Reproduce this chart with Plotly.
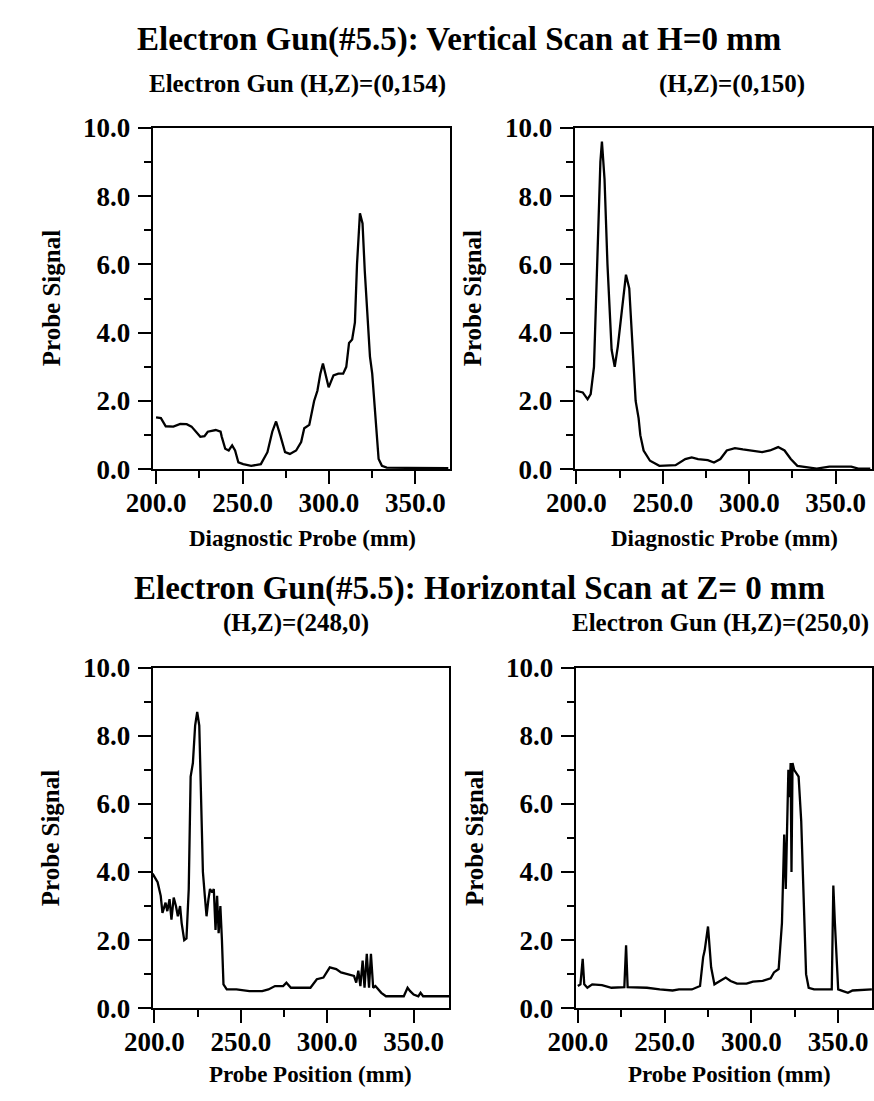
import plotly.graph_objects as go

# ---- data ----
tl_x = [200, 202.8, 205.6, 210, 214, 217.7, 220.5, 223, 225.6, 228, 229.9, 234.5, 237.3, 238, 240, 242, 244,
        245.7, 247.6, 250.4, 255, 260.6, 264.4, 267.2, 269.4, 271.8, 274.6, 277.4, 281, 283.9, 285.7, 288.6,
        291.4, 293.3, 295, 296.5, 298, 299.8, 302.6, 305.4, 308.2, 310, 311.6, 313.4, 315, 316.2, 317.9, 319.4,
        320.7, 322.2, 323.7, 325, 326.9, 328.7, 330.6, 333.4, 345, 369]
tl_y = [1.52, 1.5, 1.26, 1.25, 1.33, 1.32, 1.25, 1.1, 0.95, 0.97, 1.1, 1.15, 1.1, 0.95, 0.6, 0.55, 0.7,
        0.55, 0.2, 0.15, 0.1, 0.15, 0.5, 1.1, 1.4, 1.0, 0.5, 0.45, 0.55, 0.8, 1.2, 1.3,
        2.0, 2.3, 2.8, 3.1, 2.8, 2.4, 2.75, 2.8, 2.8, 3.0, 3.7, 3.8, 4.3, 6.0, 7.5, 7.2,
        5.8, 4.7, 3.3, 2.8, 1.5, 0.3, 0.1, 0.05, 0.04, 0.03]

tr_x = [199.6, 203.7, 206.5, 208.3, 210.2, 212, 213.9, 214.8, 216.3, 218, 220.4, 222.2, 224, 226, 228.7,
        230.6, 232.4, 234.3, 236, 237, 238.9, 242.6, 248, 257.4, 263, 266.7, 270.4, 276, 279.6, 283.3, 287,
        291.7, 296.3, 301, 307.4, 312, 316.7, 320.4, 324, 327.8, 333.3, 339, 346.3, 359, 363, 370]
tr_y = [2.3, 2.25, 2.05, 2.2, 3.0, 6.0, 9.0, 9.6, 8.5, 6.0, 3.5, 3.0, 3.6, 4.5, 5.7,
        5.3, 3.5, 2.0, 1.5, 1.0, 0.55, 0.25, 0.1, 0.12, 0.3, 0.35, 0.3, 0.27, 0.2, 0.3, 0.55,
        0.62, 0.58, 0.55, 0.5, 0.55, 0.65, 0.55, 0.3, 0.1, 0.05, 0.02, 0.08, 0.08, 0.02, 0.02]

bl_x = [199, 201.9, 203.7, 204.7, 206.5, 207.5, 208.8, 209.9, 211.2, 212.5, 213.6, 214.9, 215.8, 217.3,
        218.6, 219.9, 221, 222.3, 223.6, 224.8, 226, 227, 228.1, 229.2, 230.2, 231.3, 232.2, 233.5, 234.4,
        235.4, 236.3, 237.2, 238.2, 239.1, 240, 241.9, 247.5, 255, 262.4, 266, 269.8, 274.5, 276.4, 279,
        284.7, 290.3, 294, 297.8, 301.5, 305.2, 308, 312.7, 315.5, 316.8, 318, 319.2, 320.5, 321.6, 322.9,
        324.2, 325.3, 326.6, 327.9, 331.3, 334, 344.3, 346.5, 348, 350, 352.7, 354, 355.5, 370.5]
bl_y = [3.95, 3.7, 3.3, 2.8, 3.1, 2.85, 3.2, 2.6, 3.25, 3.0, 2.7, 3.0, 2.5, 2.0,
        2.05, 3.5, 6.8, 7.2, 8.3, 8.7, 8.3, 6.5, 4.0, 3.3, 2.7, 3.2, 3.5, 3.4, 3.5,
        2.3, 3.3, 2.2, 3.0, 2.0, 0.7, 0.55, 0.55, 0.5, 0.5, 0.55, 0.65, 0.65, 0.75, 0.6,
        0.6, 0.6, 0.85, 0.9, 1.2, 1.15, 1.05, 1.0, 0.95, 0.75, 1.1, 0.65, 1.4, 0.6, 1.6,
        0.6, 1.6, 0.6, 0.65, 0.45, 0.35, 0.35, 0.6, 0.5, 0.4, 0.35, 0.45, 0.35, 0.35]

br_x = [200, 201.5, 202.8, 203.7, 205.5, 208.3, 213.9, 219.4, 226.8, 227.8, 228.7, 232.4, 239.8, 247.2,
        254.6, 258.3, 265.7, 270.4, 272.2, 273.1, 274, 275, 275.9, 276.8, 278.7, 282.4, 285.2, 288, 291.7,
        297.2, 300.9, 306.5, 311.1, 313, 315.7, 317.6, 318.9, 319.8, 320.6, 321.3, 322, 322.6, 323.1, 323.7,
        324.6, 325.9, 327.2, 328.7, 330.2, 331.5, 333, 336.1, 346.3, 347.2, 348.1, 349.1, 350, 352.8, 355.6,
        358.3, 369.4]
br_y = [0.65, 0.7, 1.45, 0.7, 0.6, 0.7, 0.68, 0.6, 0.62, 1.85, 0.62, 0.62, 0.6, 0.55,
        0.52, 0.55, 0.55, 0.65, 1.5, 1.7, 2.0, 2.4, 1.8, 1.2, 0.7, 0.8, 0.9, 0.8, 0.72,
        0.72, 0.78, 0.8, 0.88, 1.05, 1.15, 2.5, 5.1, 3.5, 5.5, 7.0, 6.2, 7.2, 4.0, 7.2,
        7.0, 6.9, 6.8, 5.5, 3.0, 1.0, 0.6, 0.55, 0.55, 3.6, 2.5, 1.3, 0.55, 0.5, 0.45,
        0.52, 0.55]

x_ticks = [200, 250, 300, 350]
x_ticklabels = ["200.0", "250.0", "300.0", "350.0"]
y_ticks = [0, 2, 4, 6, 8, 10]
y_ticklabels = ["0.0", "2.0", "4.0", "6.0", "8.0", "10.0"]

title_top = "Electron Gun(#5.5): Vertical Scan at H=0 mm"
title_bottom = "Electron Gun(#5.5): Horizontal Scan at Z= 0 mm"
subtitles = ["Electron Gun (H,Z)=(0,154)", "(H,Z)=(0,150)", "(H,Z)=(248,0)", "Electron Gun (H,Z)=(250,0)"]
x_titles = ["Diagnostic Probe (mm)", "Diagnostic Probe (mm)", "Probe Position (mm)", "Probe Position (mm)"]
y_title = "Probe Signal"

W, H = 874, 1101
FONT = "Liberation Serif"

fig = go.Figure()

# pixel geometry of panels: (x0, x1, ytop, ybottom) and x ranges
panels = [(128, 436, 116, 467), (565, 873, 116, 467), (128, 435, 671, 1021), (566, 873, 671, 1021)]
xranges = [[198.0, 370.0], [199.0, 371.0], [199.0, 370.5], [198.7, 369.5]]
series = [(tl_x, tl_y), (tr_x, tr_y), (bl_x, bl_y), (br_x, br_y)]

for i, ((x0, x1, yt, yb), xr, (xs, ys)) in enumerate(zip(panels, xranges, series)):
    n = "" if i == 0 else str(i + 1)
    fig.add_trace(go.Scatter(x=xs, y=ys, mode="lines", line=dict(color="black", width=2.3),
                             xaxis="x" + n, yaxis="y" + n, showlegend=False, hoverinfo="skip"))
    common = dict(showgrid=False, zeroline=False, showline=True, linecolor="black", linewidth=2,
                  mirror=True, ticks="outside", tickcolor="black", tickwidth=2, ticklen=13,
                  tickfont=dict(family=FONT, size=27, color="black", weight="bold"))
    fig.update_layout(**{
        "xaxis" + n: dict(domain=[x0 / W, x1 / W], range=xr, anchor="y" + n,
                          tickvals=x_ticks, ticktext=x_ticklabels, ticklabelstandoff=-5,
                          minor=dict(tickvals=[225, 275, 325], ticklen=7, ticks="outside",
                                     tickcolor="black", tickwidth=2),
                          **common),
        "yaxis" + n: dict(domain=[1 - yb / H, 1 - yt / H], range=[0, 10], anchor="x" + n,
                          tickvals=y_ticks, ticktext=y_ticklabels, ticklabelstandoff=2,
                          minor=dict(tickvals=[1, 3, 5, 7, 9], ticklen=7, ticks="outside",
                                     tickcolor="black", tickwidth=2),
                          **common),
    })

ann = []
def add_text(text, x, y, size, angle=0):
    ann.append(dict(text=text, x=x / W, y=1 - y / H, xref="paper", yref="paper", showarrow=False,
                    xanchor="center", yanchor="middle", textangle=angle,
                    font=dict(family=FONT, size=size, color="black", weight="bold")))

add_text(title_top, 445, 25, 33)
add_text(title_bottom, 467, 590, 33)
sub_pos = [(278, 71), (728, 71), (277, 625), (716, 625)]
for s, (sx, sy) in zip(subtitles, sub_pos):
    add_text(s, sx, sy, 25)
xt_pos = [(283, 538), (720, 538), (292, 1089), (725, 1089)]
for s, (sx, sy) in zip(x_titles, xt_pos):
    add_text(s, sx, sy, 23)
for (yx, yy) in [(23, 291), (459, 291), (23, 846), (462, 846)]:
    add_text(y_title, yx, yy, 25, angle=-90)

fig.update_layout(width=W, height=H, margin=dict(l=0, r=0, t=0, b=0),
                  paper_bgcolor="white", plot_bgcolor="white", annotations=ann,
                  font=dict(family=FONT, color="black"))

fig.write_html("out.html", config={"displayModeBar": False},
               post_script="document.body.style.margin='0px';document.body.style.overflow='hidden';")
